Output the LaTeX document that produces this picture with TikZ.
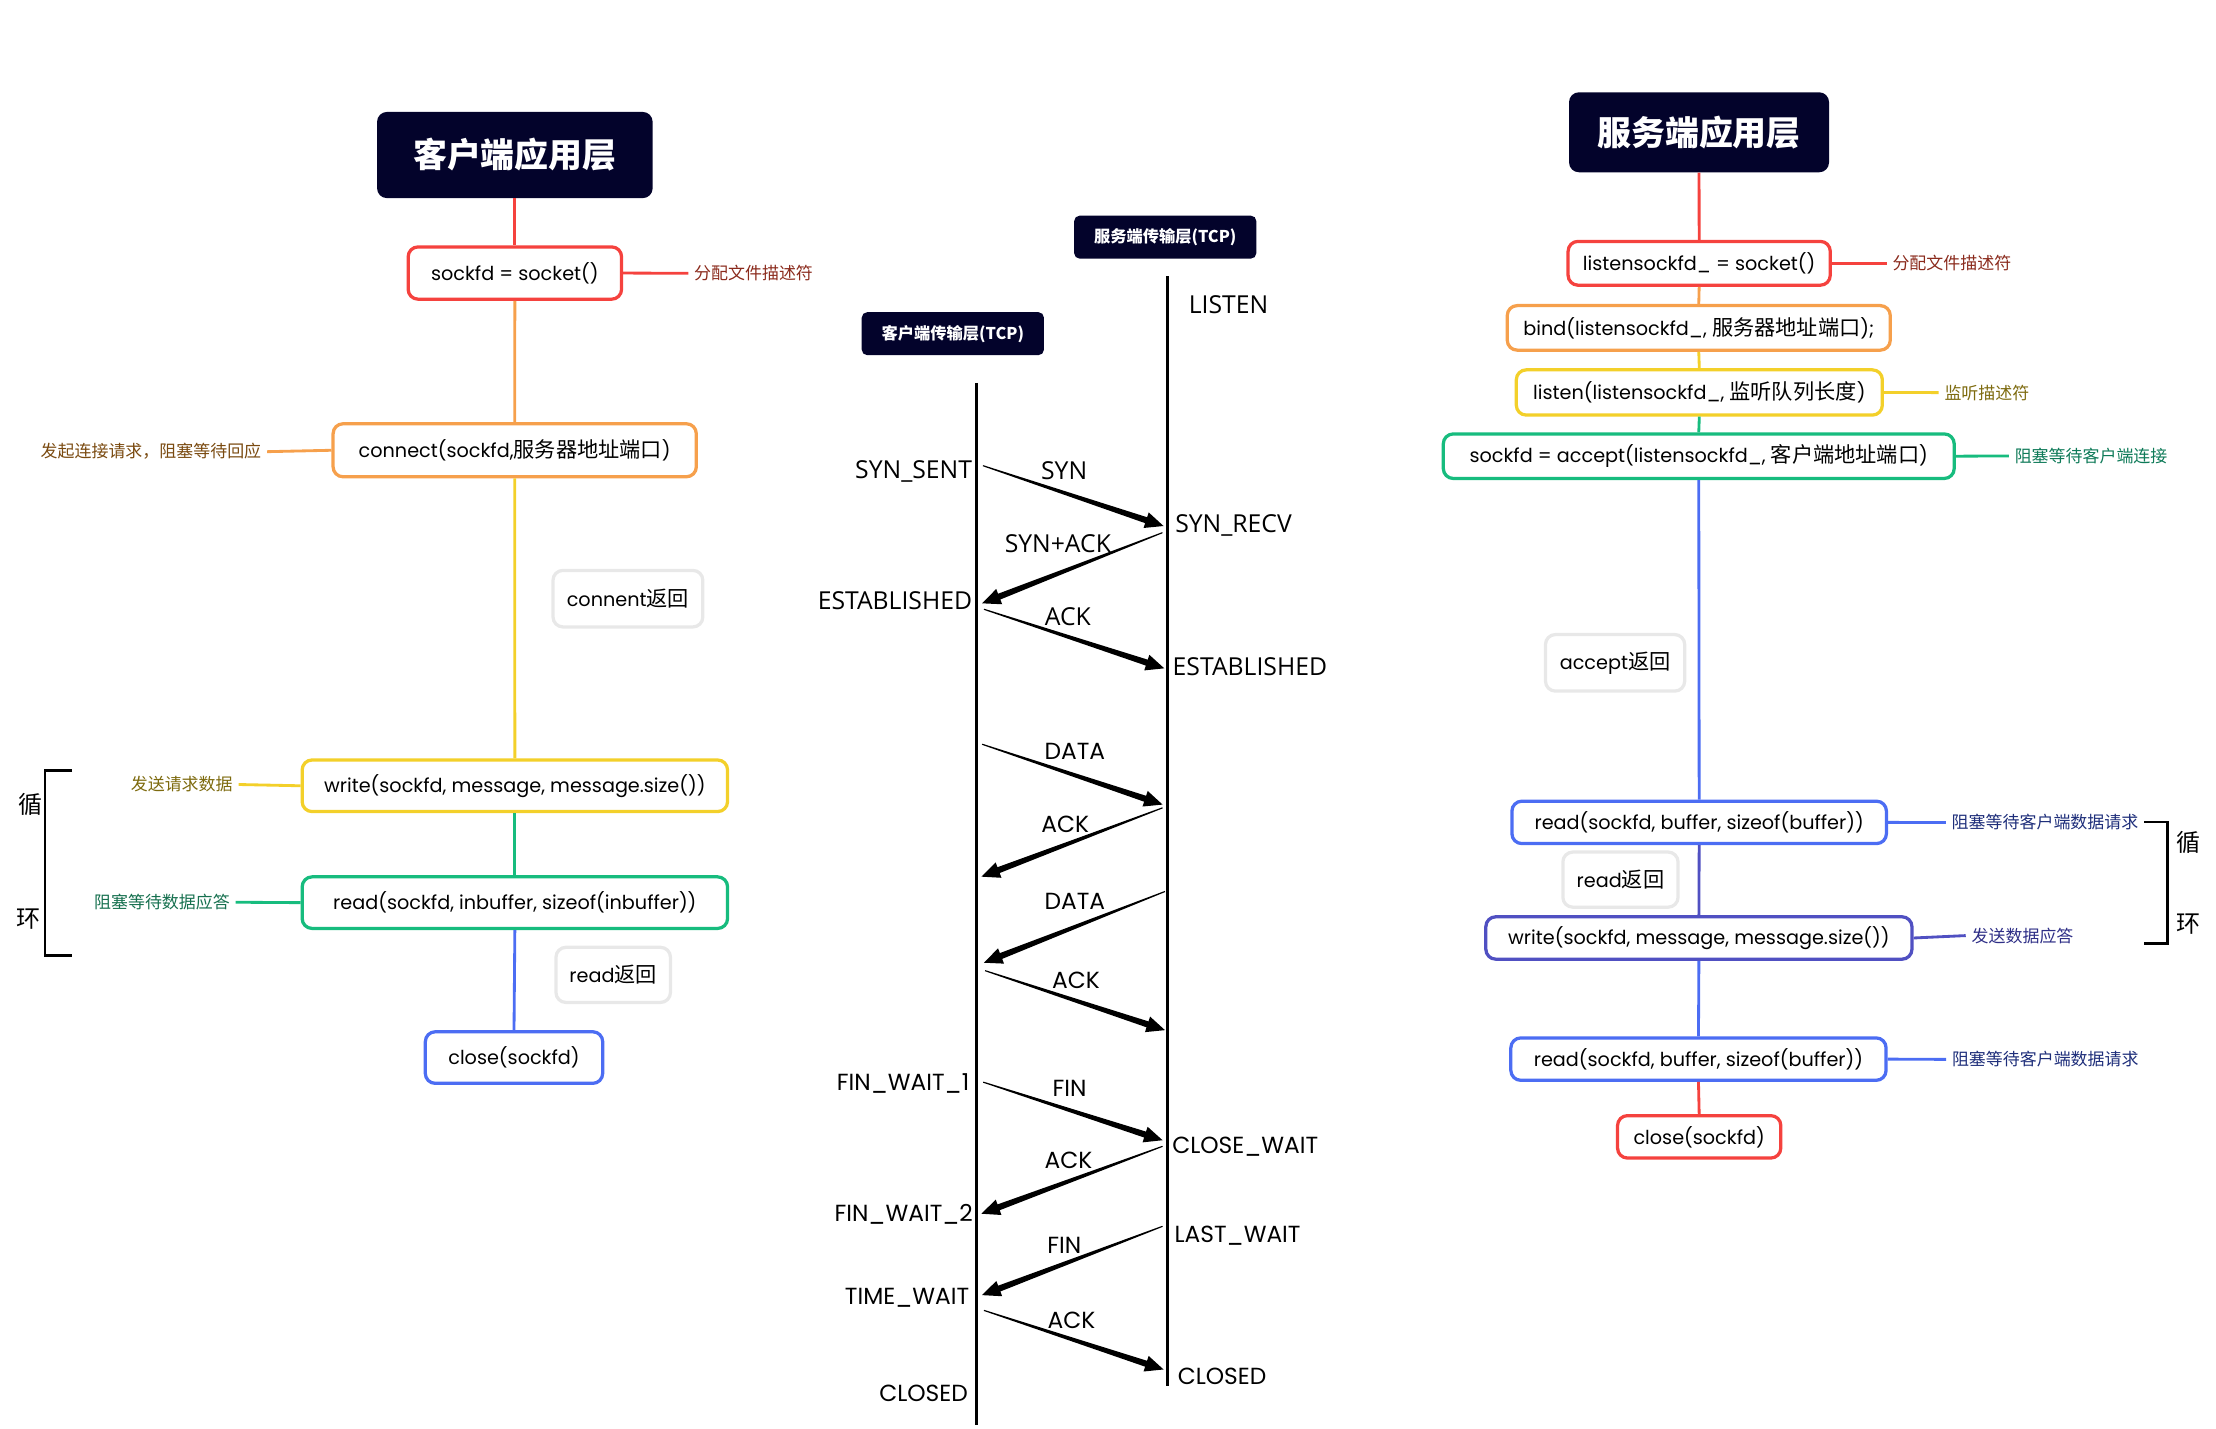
\documentclass[tikz,border=0pt]{standalone}
\usepackage{fontspec}
\setmainfont{Noto Sans CJK SC}
\newfontfamily\pop{Poppins}
\newfontfamily\osans{Open Sans}
\usetikzlibrary{calc}
\definecolor{navy}{HTML}{03032B}
\definecolor{cred}{HTML}{F5423E}
\definecolor{corange}{HTML}{F6A04C}
\definecolor{cyellow}{HTML}{F3D02A}
\definecolor{cgreen}{HTML}{17BC7E}
\definecolor{cblue}{HTML}{4C6DF3}
\definecolor{cindigo}{HTML}{5050C2}
\definecolor{cgray}{HTML}{E8E8E8}
\definecolor{tred}{HTML}{8A2A1C}
\definecolor{tbrown}{HTML}{7A4A10}
\definecolor{tolive}{HTML}{7D6A0E}
\definecolor{tgreen}{HTML}{16704F}
\definecolor{tteal}{HTML}{0E7A58}
\definecolor{tblue}{HTML}{1E2E7A}
\definecolor{tindigo}{HTML}{2E2E86}
\newcommand\lat[1]{{\pop\fontsize{13.6}{16}\selectfont #1}}
\tikzset{
  x=1pt, y=-1pt,
  every node/.style={inner sep=0pt, font=\fontsize{15}{18}\selectfont},
  box/.style={draw=#1, line width=2.3pt, rounded corners=7pt, fill=white, align=center},
  conn/.style={draw=#1, line width=2pt},
  ann/.style={font=\fontsize{12}{14}\selectfont, text=#1, inner xsep=4pt},
  apptitle/.style={fill=navy, rounded corners=7pt, text=white, font=\fontsize{24}{28}\selectfont\bfseries},
  tcptitle/.style={fill=navy, rounded corners=4pt, text=white, font=\fontsize{11.5}{13}\selectfont\bfseries},
  stA/.style={font=\osans\fontsize{17.5}{20}\selectfont},
  stB/.style={font=\pop\fontsize{16.5}{20}\selectfont},
  life/.style={line width=1.8pt, black},
  loopbr/.style={line width=2pt, black},
}
\newcommand\tarr[2]{%
  \coordinate (tH) at ($(#2)!13pt!(#1)$);
  \fill ($(#1)!0.4pt!90:(#2)$) -- ($(tH)!2.2pt!-90:(#1)$) -- ($(tH)!5.8pt!-90:(#1)$) -- (#2)
    -- ($(tH)!5.8pt!90:(#1)$) -- ($(tH)!2.2pt!90:(#1)$) -- ($(#1)!0.4pt!-90:(#2)$) -- cycle;
}
\begin{document}
\begin{tikzpicture}
\useasboundingbox (0,0) rectangle (1568,1011);

% ---------------- client application layer ----------------
\node[apptitle, minimum width=195, minimum height=61] (ctitle) at (364.3,109.7) {客户端应用层};
\node[box=cred, minimum width=151, minimum height=37] (csock) at (364.3,193.2) {\lat{sockfd = socket()}};
\node[box=corange, minimum width=257, minimum height=37.5] (cconn) at (364.2,318.6) {\lat{connect(sockfd,}服务器地址端口\lat{)}};
\node[box=cgray, minimum width=106, minimum height=40] (cconnret) at (444.3,423.6) {\lat{connent}返回};
\node[box=cyellow, minimum width=301, minimum height=36.5] (cwrite) at (364.3,556) {\lat{write(sockfd, message, message.size())}};
\node[box=cgreen, minimum width=301, minimum height=36.5] (cread) at (364.3,638.7) {\lat{read(sockfd, inbuffer, sizeof(inbuffer))}};
\node[box=cgray, minimum width=81, minimum height=39] (creadret) at (433.9,689.8) {\lat{read}返回};
\node[box=cblue, minimum width=125.5, minimum height=36.5] (cclose) at (363.7,748.3) {\lat{close(sockfd)}};

\draw[conn=cred] (ctitle.south) -- (csock.north);
\draw[conn=corange] (csock.south) -- (cconn.north);
\draw[conn=cyellow] (cconn.south) -- (cwrite.north);
\draw[conn=cgreen] (cwrite.south) -- (cread.north);
\draw[conn=cblue] (cread.south) -- (cclose.north);

\node[ann=tred, anchor=west] (cA1) at (487,193.4) {分配文件描述符};
\node[ann=tbrown, anchor=east] (cA2) at (189,319.6) {发起连接请求，阻塞等待回应};
\node[ann=tolive, anchor=east] (cA3) at (168.8,555.1) {发送请求数据};
\node[ann=tgreen, anchor=east] (cA4) at (166.8,638.4) {阻塞等待数据应答};
\draw[conn=cred] (csock.east) -- (cA1.west);
\draw[conn=corange] (cA2.east) -- (cconn.west);
\draw[conn=cyellow] (cA3.east) -- (cwrite.west);
\draw[conn=cgreen] (cA4.east) -- (cread.west);

\coordinate (cb1) at (51,545.3);
\coordinate (cb2) at (51,676.2);
\draw[loopbr] (cb1) -- (31.8,545.3) -- (31.8,676.2) -- (cb2);
\node[font=\fontsize{17}{20}\selectfont] (cloop1) at (21.9,569) {循};
\node[font=\fontsize{17}{20}\selectfont] (cloop2) at (19.9,650.2) {环};

% ---------------- server application layer ----------------
\node[apptitle, minimum width=184, minimum height=56.6] (stitle) at (1202.2,93.6) {服务端应用层};
\node[box=cred, minimum width=185.5, minimum height=31] (ssock) at (1202.3,186.3) {\lat{listensockfd\_ = socket()}};
\node[box=corange, minimum width=271, minimum height=31.5] (sbind) at (1202,232) {\lat{bind(listensockfd\_, }服务器地址端口\lat{);}};
\node[box=cyellow, minimum width=259, minimum height=32] (slisten) at (1202.4,277.7) {\lat{listen(listensockfd\_, }监听队列长度\lat{)}};
\node[box=cgreen, minimum width=361.5, minimum height=31.5] (saccept) at (1202,322.8) {\lat{sockfd = accept(listensockfd\_, }客户端地址端口\lat{)}};
\node[box=cgray, minimum width=98.5, minimum height=40] (sacceptret) at (1142.8,469) {\lat{accept}返回};
\node[box=cblue, minimum width=265, minimum height=30] (sread1) at (1202.3,581.9) {\lat{read(sockfd, buffer, sizeof(buffer))}};
\node[box=cgray, minimum width=81.5, minimum height=39] (sreadret) at (1146.6,622.4) {\lat{read}返回};
\node[box=cindigo, minimum width=301.5, minimum height=30] (swrite) at (1202.1,663.7) {\lat{write(sockfd, message, message.size())}};
\node[box=cblue, minimum width=265.5, minimum height=30] (sread2) at (1201.8,749.4) {\lat{read(sockfd, buffer, sizeof(buffer))}};
\node[box=cred, minimum width=115.5, minimum height=30] (sclose) at (1202.3,804.4) {\lat{close(sockfd)}};

\draw[conn=cred] (stitle.south) -- (ssock.north);
\draw[conn=corange] (ssock.south) -- (sbind.north);
\draw[conn=cyellow] (sbind.south) -- (slisten.north);
\draw[conn=cgreen] (slisten.south) -- (saccept.north);
\draw[conn=cblue] (saccept.south) -- (sread1.north);
\draw[conn=cindigo] (sread1.south) -- (swrite.north);
\draw[conn=cblue] (swrite.south) -- (sread2.north);
\draw[conn=cred] (sread2.south) -- (sclose.north);

\node[ann=tred, anchor=west] (sA1) at (1334.9,186.3) {分配文件描述符};
\node[ann=tolive, anchor=west] (sA2) at (1371.7,277.8) {监听描述符};
\node[ann=tteal, anchor=west] (sA3) at (1421.4,322.6) {阻塞等待客户端连接};
\node[ann=tblue, anchor=west] (sA4) at (1376.8,582) {阻塞等待客户端数据请求};
\node[ann=tindigo, anchor=west] (sA5) at (1390.9,662) {发送数据应答};
\node[ann=tblue, anchor=west] (sA6) at (1377,749.6) {阻塞等待客户端数据请求};
\draw[conn=cred] (ssock.east) -- (sA1.west);
\draw[conn=cyellow] (slisten.east) -- (sA2.west);
\draw[conn=cgreen] (saccept.east) -- (sA3.west);
\draw[conn=cblue] (sread1.east) -- (sA4.west);
\draw[conn=cindigo] (swrite.east) -- (sA5.west);
\draw[conn=cblue] (sread2.east) -- (sA6.west);

\coordinate (sb1) at (1517.2,581.6);
\coordinate (sb2) at (1517.2,667.5);
\draw[loopbr] (sb1) -- (1533.7,581.6) -- (1533.7,667.5) -- (sb2);
\node[font=\fontsize{17}{20}\selectfont] (sloop1) at (1548.5,596) {循};
\node[font=\fontsize{17}{20}\selectfont] (sloop2) at (1548.5,653.6) {环};

% ---------------- TCP layers ----------------
\node[tcptitle, minimum width=129, minimum height=30.5] (stcp) at (824.5,167.8) {服务端传输层(TCP)};
\node[tcptitle, minimum width=129, minimum height=30.5] (ctcp) at (674.2,236.1) {客户端传输层(TCP)};

\coordinate (cl1) at (691,271);
\coordinate (cl2) at (691,1008);
\coordinate (sl1) at (826,195.5);
\coordinate (sl2) at (826,981);
\draw[life] (cl1) -- (cl2);
\draw[life] (sl1) -- (sl2);

% state labels
\node[stA, anchor=base west] (sLISTEN) at (841,221.5) {LISTEN};
\node[stA, anchor=base east] (cSYNSENT) at (688,338.5) {SYN\_SENT};
\node[stA, anchor=base west] (sSYNRECV) at (831.4,377) {SYN\_RECV};
\node[stA, anchor=base east] (cEST) at (688,431.5) {ESTABLISHED};
\node[stA, anchor=base west] (sEST) at (829.6,478) {ESTABLISHED};
\node[stB, anchor=base east] (cFW1) at (686,771.5) {FIN\_WAIT\_1};
\node[stB, anchor=base west] (sCW) at (829.3,816.5) {CLOSE\_WAIT};
\node[stB, anchor=base east] (cFW2) at (688.6,864) {FIN\_WAIT\_2};
\node[stB, anchor=base west] (sLW) at (830.9,879) {LAST\_WAIT};
\node[stB, anchor=base east] (cTW) at (686,923) {TIME\_WAIT};
\node[stB, anchor=base west] (sCL) at (833.2,979.3) {CLOSED};
\node[stB, anchor=base east] (cCL) at (685,991.4) {CLOSED};

% arrows
\coordinate (a1s) at (695.5,329.5);  \coordinate (a1e) at (823.3,372.2);
\coordinate (a2s) at (822.5,376.9);  \coordinate (a2e) at (694.9,426.9);
\coordinate (a3s) at (696.2,431.1);  \coordinate (a3e) at (823.8,472.9);
\coordinate (a4s) at (694.9,526.6);  \coordinate (a4e) at (822.6,569.3);
\coordinate (a5s) at (822.6,571.6);  \coordinate (a5e) at (694.4,620.3);
\coordinate (a6s) at (824.3,630.8);  \coordinate (a6e) at (696.2,681.2);
\coordinate (a7s) at (697,686.8);    \coordinate (a7e) at (824.3,728.9);
\coordinate (a8s) at (695.7,765.7);  \coordinate (a8e) at (822.6,806.8);
\coordinate (a9s) at (822.6,811.1);  \coordinate (a9e) at (694.4,858.8);
\coordinate (a10s) at (822.6,867.7); \coordinate (a10e) at (694.9,916.4);
\coordinate (a11s) at (696.2,927.2); \coordinate (a11e) at (823.3,969);
\tarr{a1s}{a1e}
\tarr{a2s}{a2e}
\tarr{a3s}{a3e}
\tarr{a4s}{a4e}
\tarr{a5s}{a5e}
\tarr{a6s}{a6e}
\tarr{a7s}{a7e}
\tarr{a8s}{a8e}
\tarr{a9s}{a9e}
\tarr{a10s}{a10e}
\tarr{a11s}{a11e}

% arrow labels
\node[stA] (l1) at (753,333) {SYN};
\node[stA] (l2) at (748.5,385) {SYN+ACK};
\node[stA] (l3) at (755.6,436.3) {ACK};
\node[stB] (l4) at (760.6,531.5) {DATA};
\node[stB] (l5) at (753.8,583.5) {ACK};
\node[stB] (l6) at (760.6,637.7) {DATA};
\node[stB] (l7) at (761.4,693.6) {ACK};
\node[stB] (l8) at (756.8,770.3) {FIN};
\node[stB] (l9) at (756.1,820.9) {ACK};
\node[stB] (l10) at (753.1,881.1) {FIN};
\node[stB] (l11) at (758.1,934.4) {ACK};
\end{tikzpicture}
\end{document}
